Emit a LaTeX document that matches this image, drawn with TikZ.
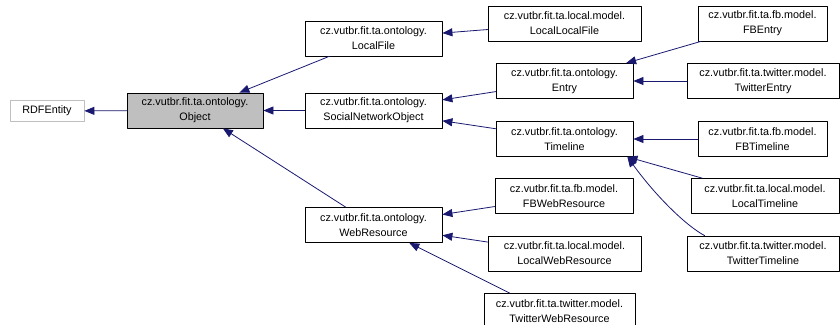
\documentclass[tikz,border=0pt]{standalone}
\usepackage{fontspec}
\setmainfont{Liberation Sans}
\usetikzlibrary{arrows.meta}
\definecolor{EdgeBlue}{HTML}{191970}
\definecolor{BaseGray}{HTML}{BFBFBF}

\begin{document}
\begin{tikzpicture}[x=1pt,y=-1pt,line cap=round,line join=round,
  cls/.style={draw,fill=white,line width=0.8pt,align=center,inner sep=0pt,
    minimum height=35pt,font=\fontsize{10.8}{15}\selectfont},
  inh/.style={EdgeBlue,line width=0.8pt,-{Triangle[length=10pt,width=8pt]}}]
  \useasboundingbox (0,0) rectangle (840,324);

  \node[cls,draw=BaseGray,minimum width=74pt,minimum height=21pt] (rdf) at (47,111) {RDFEntity};
  \node[cls,fill=BaseGray,minimum width=136pt] (obj) at (195,110.5) {cz.vutbr.fit.ta.ontology.\\Object};

  \node[cls,minimum width=137pt] (lf) at (373.5,38.5) {cz.vutbr.fit.ta.ontology.\\LocalFile};
  \node[cls,minimum width=137pt] (sno) at (373.5,110.5) {cz.vutbr.fit.ta.ontology.\\SocialNetworkObject};
  \node[cls,minimum width=137pt] (wr) at (373.5,225) {cz.vutbr.fit.ta.ontology.\\WebResource};

  \node[cls,minimum width=153pt] (llf) at (564.5,23.5) {cz.vutbr.fit.ta.local.model.\\LocalLocalFile};
  \node[cls,minimum width=137pt] (ent) at (564.5,81) {cz.vutbr.fit.ta.ontology.\\Entry};
  \node[cls,minimum width=137pt] (tl) at (564.5,139) {cz.vutbr.fit.ta.ontology.\\Timeline};
  \node[cls,minimum width=138pt] (fbwr) at (564,196) {cz.vutbr.fit.ta.fb.model.\\FBWebResource};
  \node[cls,minimum width=153pt] (lwr) at (564.5,253.5) {cz.vutbr.fit.ta.local.model.\\LocalWebResource};
  \node[cls,minimum width=151pt] (twr) at (559.5,311) {cz.vutbr.fit.ta.twitter.model.\\TwitterWebResource};

  \node[cls,minimum width=129pt] (fbe) at (762.5,23.5) {cz.vutbr.fit.ta.fb.model.\\FBEntry};
  \node[cls,minimum width=152pt] (twe) at (763,81) {cz.vutbr.fit.ta.twitter.model.\\TwitterEntry};
  \node[cls,minimum width=129pt] (fbtl) at (762.5,139) {cz.vutbr.fit.ta.fb.model.\\FBTimeline};
  \node[cls,minimum width=148pt] (ltl) at (765,196) {cz.vutbr.fit.ta.local.model.\\LocalTimeline};
  \node[cls,minimum width=152pt] (twtl) at (763,253.5) {cz.vutbr.fit.ta.twitter.model.\\TwitterTimeline};

  \draw[inh] (obj) -- (rdf);
  \draw[inh] (lf) -- (obj);
  \draw[inh] (sno) -- (obj);
  \draw[inh] (wr) -- (obj);
  \draw[inh] (llf) -- (lf);
  \draw[inh] (ent) -- (sno);
  \draw[inh] (tl) -- (sno);
  \draw[inh] (fbwr) -- (wr);
  \draw[inh] (lwr) -- (wr);
  \draw[inh] ([xshift=26pt]twr.north west) -- (wr);
  \draw[inh] (fbe) -- (ent);
  \draw[inh] (twe) -- (ent);
  \draw[inh] (fbtl) -- (tl);
  \draw[inh] (ltl) -- (tl);
  \draw[inh] ([xshift=18pt]twtl.north west) .. controls (685,225) and (655,195) .. ([xshift=-6pt]tl.south east);
\end{tikzpicture}
\end{document}
